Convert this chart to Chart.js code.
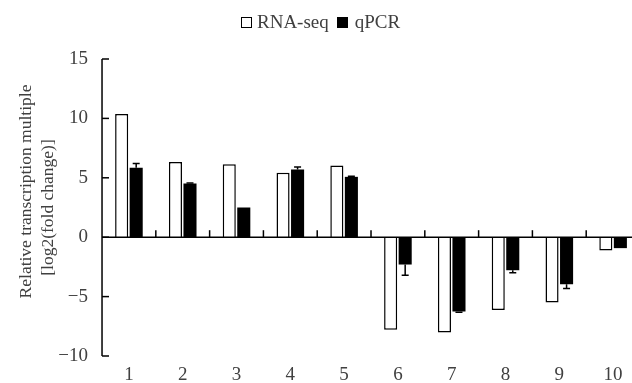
<!DOCTYPE html>
<html>
<head>
<meta charset="utf-8">
<script src="https://cdn.jsdelivr.net/npm/chart.js@4"></script>
<style>
  html, body { margin: 0; padding: 0; background: #fff; overflow: hidden; }
  #wrap { position: absolute; left: 0; top: 0; width: 640px; height: 383px; }
  #legend { position: absolute; left: 241px; top: 10px; height: 24px; display: flex; align-items: center;
            font-family: "Liberation Serif", "Times New Roman", serif; font-size: 19px; color: #404040; white-space: nowrap; }
  .box { width: 9px; height: 9px; border: 1.5px solid #000; box-sizing: content-box; }
  .box.white { background: #fff; margin-right: 5px; }
  .box.black { background: #000; margin-left: 8px; margin-right: 7px; }
</style>
</head>
<body>
<div id="wrap"><canvas id="c"></canvas></div>
<div id="legend"><span class="box white"></span><span>RNA-seq</span><span class="box black"></span><span>qPCR</span></div>
<script>
const categories = ['1', '2', '3', '4', '5', '6', '7', '8', '9', '10'];
const rnaSeq = [10.36, 6.32, 6.15, 5.42, 6.04, -7.78, -8.03, -6.13, -5.5, -1.12];
const qpcr = [5.84, 4.52, 2.5, 5.7, 5.08, -2.3, -6.26, -2.78, -3.96, -0.92];
const qpcrErr = [0.37, 0.05, 0, 0.2, 0.05, 0.9, 0.05, 0.22, 0.36, 0];
const seriesNames = ['RNA-seq', 'qPCR'];
const yTitle = ['Relative transcription multiple', '[log2(fold change)]'];
const yMin = -10, yMax = 15, yStep = 5;

const axisPlugin = {
  id: 'axisPlugin',
  afterDatasetsDraw(chart) {
    const ctx = chart.ctx;
    const ca = chart.chartArea;
    const ys = chart.scales.y;
    const xs = chart.scales.x;
    ctx.save();
    ctx.strokeStyle = '#000';
    ctx.lineWidth = 1.5;
    ctx.lineCap = 'butt';
    ctx.beginPath();
    ctx.moveTo(ca.left, ys.getPixelForValue(yMax));
    ctx.lineTo(ca.left, ys.getPixelForValue(yMin));
    ctx.stroke();
    ys.ticks.forEach(t => {
      const y = ys.getPixelForValue(t.value);
      ctx.beginPath();
      ctx.moveTo(ca.left, y);
      ctx.lineTo(ca.left + 7, y);
      ctx.stroke();
    });
    const y0 = ys.getPixelForValue(0);
    ctx.beginPath();
    ctx.moveTo(ca.left, y0);
    ctx.lineTo(ca.right, y0);
    ctx.stroke();
    for (let i = 0; i < categories.length - 1; i++) {
      const x = (xs.getPixelForValue(i) + xs.getPixelForValue(i + 1)) / 2;
      ctx.beginPath();
      ctx.moveTo(x, y0);
      ctx.lineTo(x, y0 - 7);
      ctx.stroke();
    }
    const meta = chart.getDatasetMeta(1);
    meta.data.forEach((bar, i) => {
      const e = qpcrErr[i];
      if (!e) return;
      const v = qpcr[i];
      const sign = v >= 0 ? 1 : -1;
      const yA = ys.getPixelForValue(v);
      const yB = ys.getPixelForValue(v + sign * e);
      ctx.beginPath();
      ctx.moveTo(bar.x, yA);
      ctx.lineTo(bar.x, yB);
      ctx.moveTo(bar.x - 3.5, yB);
      ctx.lineTo(bar.x + 3.5, yB);
      ctx.stroke();
    });
    ctx.restore();
  }
};

const textColor = '#404040';
const serif = '"Liberation Serif", "Times New Roman", serif';
const titleFont = { family: serif, size: 17.5, lineHeight: 1.31, weight: 'normal' };

new Chart(document.getElementById('c'), {
  type: 'bar',
  data: {
    labels: categories,
    datasets: [
      { label: seriesNames[0], data: rnaSeq, xAxisID: 'x', yAxisID: 'y',
        backgroundColor: '#ffffff', borderColor: '#000000', borderWidth: 1.5,
        categoryPercentage: 0.54, barPercentage: 0.9 },
      { label: seriesNames[1], data: qpcr, xAxisID: 'x', yAxisID: 'y',
        backgroundColor: '#000000', borderColor: '#000000', borderWidth: 0,
        categoryPercentage: 0.54, barPercentage: 0.9 }
    ]
  },
  options: {
    responsive: true,
    maintainAspectRatio: false,
    animation: false,
    devicePixelRatio: 1,
    layout: { padding: 0 },
    plugins: {
      legend: { display: false },
      tooltip: { enabled: false },
      title: {
        display: true, position: 'left', text: yTitle[0], color: textColor,
        font: titleFont, padding: { top: 14.5, bottom: 0 }
      }
    },
    scales: {
      x: {
        type: 'category',
        position: 'bottom',
        grid: { display: false, drawTicks: false },
        border: { display: false },
        ticks: { color: textColor, font: { family: serif, size: 19 }, padding: 8, maxRotation: 0 },
        afterFit(scale) { scale.height = 27; }
      },
      xTop: {
        type: 'category',
        position: 'top',
        grid: { display: false, drawTicks: false },
        border: { display: false },
        ticks: { display: false },
        afterFit(scale) { scale.height = 59; }
      },
      y: {
        min: yMin, max: yMax,
        grid: { display: false, drawTicks: false },
        border: { display: false },
        ticks: {
          stepSize: yStep, color: textColor, font: { family: serif, size: 19 }, padding: 14,
          callback: v => String(v).replace('-', '\u2212')
        },
        title: {
          display: true, text: yTitle[1], color: textColor,
          font: titleFont, padding: { top: 0, bottom: 0 }
        },
        afterFit(scale) { scale.width = 102 - 37.4; }
      }
    }
  },
  plugins: [axisPlugin]
});
</script>
</body>
</html>
